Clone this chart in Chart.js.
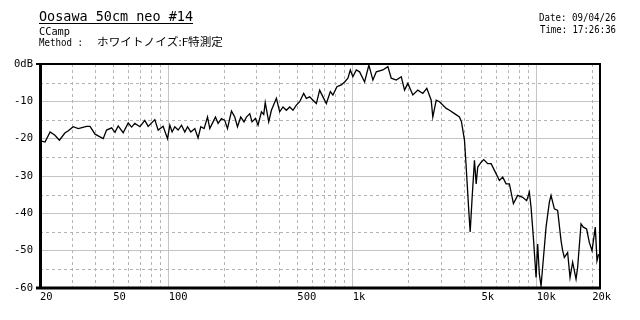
<!DOCTYPE html>
<html>
<head>
<meta charset="utf-8">
<script src="https://cdn.jsdelivr.net/npm/chart.js@4.4.1/dist/chart.umd.min.js"></script>
<style>
  html, body { margin: 0; padding: 0; background: #fff; }
  #wrap { width: 640px; height: 320px; }
</style>
</head>
<body>
<div id="wrap"><canvas id="fchart" width="640" height="320"></canvas></div>
<script>
// 周波数特性 (Hz / dB)
const freqs = [
  20, 21.3, 22.7, 24.1, 25.5, 27.3, 28.5, 30.3, 32.3, 35.8,
  37.4, 39.8, 44.1, 46.0, 49.0, 51.1, 53.2, 56.6, 60.3, 62.9,
  65.5, 69.8, 74.2, 77.4, 84.1, 87.7, 93.3, 98.6, 101.5, 104.4,
  108, 112.6, 117.5, 122.4, 126.6, 131.9, 138.7, 144.5, 149.5, 155.8,
  162.6, 167.3, 174.3, 179.6, 185.6, 193.6, 201.8, 208.7, 219.4, 228.6,
  236.5, 246.4, 256.8, 264.6, 275.8, 283.8, 296.1, 305.9, 319.2, 328.5,
  334.7, 349.6, 361.6, 384.9, 401.1, 418, 436.1, 454.5, 473.6, 494.2,
  515, 541.4, 560, 583.5, 608.1, 634.5, 661.2, 689, 718.9, 755.8,
  780.7, 820.8, 867.1, 903.6, 941.6, 970.3, 1002, 1046, 1090, 1160,
  1224, 1287, 1343, 1458, 1552, 1619, 1724, 1835, 1912, 1993,
  2121, 2258, 2403, 2527, 2669, 2723, 2842, 2961, 3221, 3356,
  3572, 3802, 3898, 4047, 4134, 4270, 4346, 4455, 4585, 4684,
  4778, 4986, 5150, 5414, 5649, 5887, 6266, 6530, 6813, 7100,
  7464, 7876, 8381, 8811, 9113, 9308, 9580, 9909, 10108, 10325,
  10548, 10992, 11228, 11702, 11952, 12456, 12980, 13544, 13818, 14115,
  14709, 15158, 15658, 16338, 16668, 17392, 17898, 18652, 19292, 19950,
  20790, 21236, 21666
];
const levels = [
  -20.5, -20.9, -18.2, -19.1, -20.4, -18.5, -17.9, -16.8, -17.3, -16.7,
  -16.7, -18.8, -20.0, -17.7, -17.1, -18.3, -16.6, -18.4, -15.8, -16.9,
  -15.9, -16.8, -15.1, -16.7, -14.9, -17.7, -16.7, -20.0, -16.4, -18.2,
  -16.8, -17.7, -16.4, -18.2, -16.8, -18.2, -17.3, -19.8, -16.8, -17.3,
  -14.2, -17.3, -15.5, -14.2, -15.9, -14.6, -15.1, -17.3, -12.6, -14.2,
  -16.8, -14.2, -15.5, -14.2, -13.3, -15.5, -14.6, -16.4, -12.8, -13.5,
  -10.3, -15.5, -12.4, -9.2, -12.8, -11.5, -12.4, -11.5, -12.4, -11.0,
  -10.1, -7.9, -9.2, -8.8, -9.7, -10.6, -7.0, -8.8, -10.6, -7.4,
  -8.3, -6.1, -5.6, -4.8, -3.8, -1.6, -3.4, -1.6, -2.1, -4.8,
  -0.3, -4.3, -2.1, -1.6, -0.7, -3.8, -4.3, -3.4, -7.0, -5.2,
  -8.3, -7.0, -7.9, -6.5, -9.7, -14.2, -9.7, -10.1, -11.9, -12.4,
  -13.3, -14.2, -15.5, -20.4, -27.6, -39.2, -45.0, -35.7, -25.8, -32.1,
  -27.6, -26.3, -25.6, -26.7, -26.7, -28.5, -31.2, -30.3, -32.1, -32.1,
  -37.4, -35.2, -35.7, -36.6, -34.3, -38.4, -46.4, -57.2, -48.2, -56.3,
  -59.4, -49.1, -43.7, -37.0, -35.2, -38.8, -39.2, -47.3, -50.0, -51.8,
  -50.5, -57.2, -53.1, -57.6, -54.5, -42.8, -43.7, -44.2, -47.8, -50.0,
  -43.7, -52.7, -50.9
];

// 軸目盛り
const gridFreqs = [20, 30, 40, 50, 60, 70, 80, 90, 100, 200, 300, 400, 500, 600, 700, 800, 900,
  1000, 2000, 3000, 4000, 5000, 6000, 7000, 8000, 9000, 10000, 20000];
const decadeFreqs = [100, 1000, 10000];
const labelFreqs = [20, 50, 100, 500, 1000, 5000, 10000, 20000];
const freqTickLabels = ['20', '50', '100', '500', '1k', '5k', '10k', '20k'];
const minorDb = [-5, -15, -25, -35, -45, -55];

const titleText = 'Oosawa 50cm neo #14';
const subText = 'CCamp';
const methodLabel = 'Method :';
const methodText = 'ホワイトノイズ:F特測定';
const dateText = 'Date: 09/04/26';
const timeText = 'Time: 17:26:36';

const MONO = '"DejaVu Sans Mono", "Liberation Mono", monospace';

// 文字幅を合わせて描く
function drawFitted(ctx, text, x, y, width, font) {
  ctx.font = font;
  const w = ctx.measureText(text).width;
  ctx.save();
  ctx.translate(x, y);
  ctx.scale(width / w, 1);
  ctx.fillText(text, 0, 0);
  ctx.restore();
}

const dashGrid = {
  id: 'dashGrid',
  beforeDatasetsDraw(chart) {
    const {ctx, chartArea: a, scales: {x, y}} = chart;
    ctx.save();
    ctx.strokeStyle = '#b4b4b4';
    ctx.lineWidth = 1;
    ctx.setLineDash([3, 3]);
    ctx.beginPath();
    gridFreqs.filter(f => !decadeFreqs.includes(f) && f !== 20).forEach(f => {
      const px = Math.round(x.getPixelForValue(f)) + 0.5;
      ctx.moveTo(px, a.top);
      ctx.lineTo(px, a.bottom);
    });
    minorDb.forEach(v => {
      const py = Math.round(y.getPixelForValue(v)) + 0.5;
      ctx.moveTo(a.left, py);
      ctx.lineTo(a.right, py);
    });
    ctx.stroke();
    ctx.restore();
  }
};

const frameAndHeader = {
  id: 'frameAndHeader',
  afterDraw(chart) {
    const {ctx, chartArea: a} = chart;
    ctx.save();
    ctx.strokeStyle = '#000';
    ctx.setLineDash([]);
    // 枠
    ctx.lineWidth = 2;
    ctx.beginPath();
    ctx.moveTo(a.left - 4, a.top);
    ctx.lineTo(a.right, a.top);
    ctx.lineTo(a.right, a.bottom);
    ctx.stroke();
    ctx.lineWidth = 3;
    ctx.beginPath();
    ctx.moveTo(a.left + 0.5, a.top - 1);
    ctx.lineTo(a.left + 0.5, a.bottom);
    ctx.moveTo(a.left - 4, a.bottom);
    ctx.lineTo(a.right + 1, a.bottom);
    ctx.stroke();

    // ヘッダー
    ctx.fillStyle = '#000';
    ctx.textBaseline = 'alphabetic';
    drawFitted(ctx, titleText, 39, 21, 154, '14px ' + MONO);
    ctx.lineWidth = 1;
    ctx.beginPath();
    ctx.moveTo(39, 23.5);
    ctx.lineTo(193, 23.5);
    ctx.stroke();
    drawFitted(ctx, subText, 39, 35, 31, '10.5px ' + MONO);
    drawFitted(ctx, methodLabel, 39, 46, 44, '10.5px ' + MONO);
    drawFitted(ctx, methodText, 97, 46, 126, '11px "Noto Sans CJK JP"');
    drawFitted(ctx, dateText, 539, 21, 77, '10.5px ' + MONO);
    drawFitted(ctx, timeText, 540, 32.5, 76, '10.5px ' + MONO);
    ctx.restore();
  }
};

new Chart(document.getElementById('fchart'), {
  type: 'line',
  data: {
    datasets: [{
      data: freqs.map((f, i) => ({x: f, y: levels[i]})),
      borderColor: '#000',
      borderWidth: 1.3,
      pointRadius: 0,
      tension: 0,
      fill: false
    }]
  },
  options: {
    responsive: false,
    animation: false,
    devicePixelRatio: 1,
    layout: { padding: { top: 64, right: 40, left: 0, bottom: 0 } },
    plugins: { legend: { display: false }, tooltip: { enabled: false } },
    scales: {
      x: {
        type: 'logarithmic',
        min: 20,
        max: 22050,
        afterBuildTicks: s => { s.ticks = gridFreqs.map(v => ({ value: v })); },
        afterFit: s => { s.height = 32; },
        border: { display: false },
        grid: {
          drawTicks: false,
          color: c => (c.tick && decadeFreqs.includes(c.tick.value)) ? '#c4c4c4' : 'rgba(0,0,0,0)'
        },
        ticks: {
          autoSkip: false,
          maxRotation: 0,
          align: 'start',
          padding: 3,
          color: '#000',
          font: { family: MONO, size: 10.5 },
          callback: v => {
            const i = labelFreqs.indexOf(v);
            return i >= 0 ? freqTickLabels[i] : '';
          }
        }
      },
      y: {
        min: -60,
        max: 0,
        afterFit: s => { s.width = 40; },
        border: { display: false },
        grid: {
          drawTicks: false,
          color: c => (c.tick && c.tick.value % 10 === 0) ? '#c4c4c4' : 'rgba(0,0,0,0)'
        },
        ticks: {
          stepSize: 5,
          padding: 7,
          color: '#000',
          font: { family: MONO, size: 10.5 },
          callback: v => v % 10 !== 0 ? '' : (v === 0 ? '0dB' : String(v))
        }
      }
    }
  },
  plugins: [dashGrid, frameAndHeader]
});
</script>
</body>
</html>
